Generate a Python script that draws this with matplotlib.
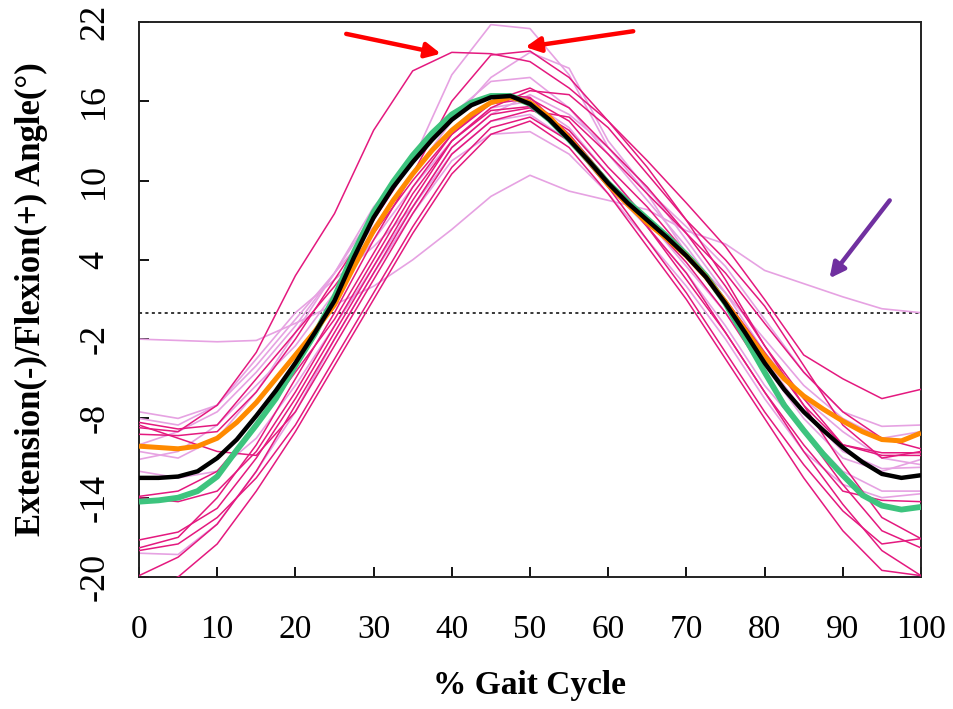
import matplotlib
matplotlib.use("Agg")
import matplotlib.pyplot as plt
import numpy as np

# ---------------- data ----------------
gait_5 = list(range(0, 101, 5))          # individual trials, every 5 % of the cycle
gait_2 = [i * 2.5 for i in range(41)]    # group means, every 2.5 %

# individual trials (deep pink)
trial_a = [-8.7, -9.0, -7.0, -3.0, 2.8, 7.5, 13.8, 18.3, 19.7, 19.6, 19.0, 17.0, 14.5, 11.5, 8.3, 5.0, 1.0, -3.2, -5.0, -6.5, -5.8]
trial_b = [-17.8, -17.0, -14.0, -10.0, -5.0, 0.0, 5.5, 10.5, 16.0, 19.5, 19.8, 17.8, 14.5, 11.0, 7.0, 2.5, -2.5, -7.0, -11.5, -15.5, -17.1]
trial_c = [-13.9, -13.5, -12.0, -8.5, -4.5, -0.5, 4.5, 9.5, 13.5, 15.8, 16.2, 14.5, 11.0, 8.0, 4.5, 1.0, -3.0, -7.0, -10.0, -10.6, -10.6]
trial_d = [-19.9, -18.5, -16.0, -12.0, -7.0, -2.0, 3.0, 8.0, 12.5, 15.0, 15.5, 13.5, 10.0, 6.5, 3.0, -1.5, -6.0, -10.5, -14.5, -18.0, -19.9]
trial_e = [-17.2, -16.6, -14.8, -11.0, -6.5, -1.5, 3.5, 8.5, 13.0, 15.3, 15.6, 13.8, 10.5, 7.0, 3.8, 0.0, -4.5, -9.0, -13.0, -16.5, -17.8]
trial_f = [-9.2, -9.3, -9.0, -6.0, -2.0, 2.5, 7.0, 11.5, 14.8, 16.5, 16.3, 13.5, 10.0, 6.5, 2.5, -1.5, -6.0, -10.0, -13.5, -14.2, -14.3]
trial_g = [-8.5, -9.5, -10.5, -10.8, -7.5, -2.5, 2.5, 7.5, 12.0, 14.5, 15.3, 14.8, 12.0, 9.0, 6.0, 3.0, -0.8, -4.5, -7.5, -9.5, -10.3]
trial_h = [-18.0, -17.5, -15.5, -12.5, -8.5, -3.5, 1.5, 6.5, 11.0, 14.0, 14.8, 13.0, 9.5, 5.5, 1.5, -3.0, -7.5, -11.5, -15.0, -17.5, -17.1]
trial_i = [-14.0, -14.3, -13.5, -10.5, -6.0, -1.0, 4.0, 9.0, 13.0, 15.5, 16.8, 16.5, 14.0, 10.5, 7.0, 4.0, 0.5, -4.0, -8.5, -11.0, -10.5]
trial_j = [-21.0, -20.0, -17.5, -13.5, -9.0, -4.0, 1.0, 6.0, 10.5, 13.5, 14.5, 12.5, 9.0, 5.0, 1.0, -3.5, -8.0, -12.5, -16.5, -19.5, -19.9]
trial_k = [-8.3, -8.8, -8.5, -5.0, -1.5, 2.0, 6.0, 10.0, 13.5, 16.0, 17.0, 15.5, 12.5, 9.5, 6.0, 2.0, -2.5, -6.5, -10.0, -10.8, -10.8]

# individual trials (light pink)
trial_l = [-10.5, -11.0, -9.5, -6.0, -1.5, 3.0, 8.0, 11.5, 18.0, 21.8, 21.5, 18.0, 12.5, 9.5, 5.5, 1.5, -3.0, -6.5, -9.0, -11.0, -11.5]
trial_m = [-8.0, -8.5, -7.0, -4.0, -0.5, 3.0, 6.5, 10.5, 14.5, 17.8, 19.7, 18.5, 13.0, 9.3, 6.5, 3.5, -0.5, -4.5, -7.5, -8.6, -8.5]
trial_n = [-10.0, -9.0, -7.5, -4.5, -1.0, 3.0, 7.5, 11.5, 15.0, 17.5, 17.8, 15.5, 12.0, 8.5, 5.0, 1.0, -3.5, -7.5, -10.5, -11.8, -11.7]
trial_o = [-18.2, -18.3, -16.0, -12.0, -7.5, -2.0, 3.0, 7.5, 11.5, 13.5, 13.7, 12.0, 9.0, 5.5, 2.0, -2.0, -6.5, -10.5, -13.0, -14.0, -13.7]
trial_p = [-2.0, -2.1, -2.2, -2.1, -0.8, 0.6, 2.0, 4.0, 6.3, 8.8, 10.4, 9.2, 8.5, 7.8, 6.2, 5.2, 3.2, 2.2, 1.2, 0.3, 0.0]
trial_q = [-11.1, -10.5, -8.5, -5.5, -2.5, 1.5, 5.5, 9.5, 13.0, 15.5, 16.0, 14.0, 10.5, 7.0, 3.5, 0.0, -4.0, -8.0, -11.0, -12.0, -11.1]
trial_r = [-7.5, -8.0, -7.0, -3.5, 0.0, 2.5, 5.0, 8.0, 12.5, 15.0, 16.5, 15.0, 12.5, 9.0, 4.5, 1.5, -2.0, -5.5, -8.0, -9.5, -9.0]
trial_s = [-12.0, -12.5, -12.0, -9.5, -5.5, -1.0, 3.5, 8.0, 12.0, 14.5, 15.0, 13.0, 9.5, 6.5, 3.0, -1.0, -5.5, -9.0, -12.0, -13.5, -13.5]

# group means
mean_green = [-14.3, -14.2, -14.0, -13.5, -12.4, -10.4, -8.5, -6.5, -4.0, -1.6, 1.2, 4.6, 7.6, 9.9, 11.9, 13.6,
              15.0, 15.9, 16.4, 16.4, 15.8, 14.6, 13.1, 11.5, 9.8, 8.4, 7.1, 5.8, 4.4, 2.8, 0.7, -1.9, -4.5, -7.0,
              -8.9, -10.7, -12.3, -13.8, -14.6, -14.9, -14.7]
mean_orange = [-10.1, -10.2, -10.3, -10.1, -9.5, -8.3, -6.8, -5.0, -3.2, -1.4, 0.6, 3.5, 6.2, 8.5, 10.5, 12.3,
               13.8, 15.0, 15.9, 16.3, 15.9, 14.8, 13.2, 11.5, 9.7, 8.2, 6.8, 5.6, 4.3, 2.7, 0.8, -1.3, -3.3, -5.0,
               -6.3, -7.3, -8.2, -9.0, -9.6, -9.7, -9.1]
mean_black = [-12.5, -12.5, -12.4, -12.0, -11.0, -9.6, -7.8, -5.9, -3.8, -1.5, 0.9, 4.2, 7.2, 9.5, 11.4, 13.1,
              14.6, 15.7, 16.3, 16.4, 15.8, 14.6, 13.1, 11.5, 9.8, 8.3, 7.0, 5.7, 4.3, 2.7, 0.7, -1.5, -3.8, -5.8,
              -7.5, -8.9, -10.2, -11.3, -12.2, -12.5, -12.3]

deep_trials = [trial_a, trial_b, trial_c, trial_d, trial_e, trial_f, trial_g, trial_h, trial_i, trial_j, trial_k]
light_trials = [trial_l, trial_m, trial_n, trial_o, trial_p, trial_q, trial_r, trial_s]

x_ticks = list(range(0, 101, 10))
y_ticks = [-20, -14, -8, -2, 4, 10, 16, 22]

# ---------------- style ----------------
DEEP = "#E4197F"
LIGHT = "#E6A2E2"
GREEN = "#3DC47E"
ORANGE = "#FF8A00"
SERIF = ["Liberation Serif", "DejaVu Serif"]

plt.rcParams["font.family"] = SERIF

fig = plt.figure(figsize=(9.54, 7.09), dpi=100)
ax = fig.add_axes([0.1457, 0.1862, 0.8197, 0.7828])

ax.axhline(0, color="black", lw=1.1, ls=(0, (2, 2.2)), zorder=1)

for tr in light_trials:
    ax.plot(gait_5, tr, color=LIGHT, lw=1.2, zorder=2)
for tr in deep_trials:
    ax.plot(gait_5, tr, color=DEEP, lw=1.1, zorder=3)

ax.plot(gait_2, mean_green, color=GREEN, lw=4.2, zorder=4, solid_capstyle="butt")
ax.plot(gait_2, mean_orange, color=ORANGE, lw=3.6, zorder=5, solid_capstyle="butt")
ax.plot(gait_2, mean_black, color="black", lw=3.2, zorder=6, solid_capstyle="butt")

# arrows pointing at notable trials
arrow_red = dict(arrowstyle="-|>,head_length=0.9,head_width=0.45", color="#FF0000", lw=3.2,
                 shrinkA=0, shrinkB=0)
arrow_purple = dict(arrowstyle="-|>,head_length=0.9,head_width=0.45", color="#7030A0", lw=3.2,
                    shrinkA=0, shrinkB=0)
ax.annotate("", xy=(38.6, 19.6), xytext=(26.5, 21.1), arrowprops=arrow_red, zorder=7)
ax.annotate("", xy=(49.4, 20.1), xytext=(63.2, 21.3), arrowprops=arrow_red, zorder=7)
ax.annotate("", xy=(88.3, 2.6), xytext=(96.0, 8.5), arrowprops=arrow_purple, zorder=7)

ax.set_xlim(0, 100)
ax.set_ylim(-20, 22)
ax.set_xticks(x_ticks)
ax.set_yticks(y_ticks)
ax.set_xticklabels([str(v) for v in x_ticks])
ax.set_yticklabels([str(v) for v in y_ticks], rotation=90, va="center")

ax.tick_params(axis="x", direction="in", length=7, width=1.3, labelsize=24, pad=27)
ax.tick_params(axis="y", direction="in", length=7, width=1.3, labelsize=26, pad=20)

for sp in ax.spines.values():
    sp.set_linewidth(1.4)
    sp.set_color("#222222")

ax.set_xlabel("% Gait Cycle", fontsize=24, fontweight="bold", labelpad=18)
ax.set_ylabel("Extension(-)/Flexion(+) Angle(°)", fontsize=25, fontweight="bold", labelpad=22)

fig.savefig("out.png", dpi=100)
